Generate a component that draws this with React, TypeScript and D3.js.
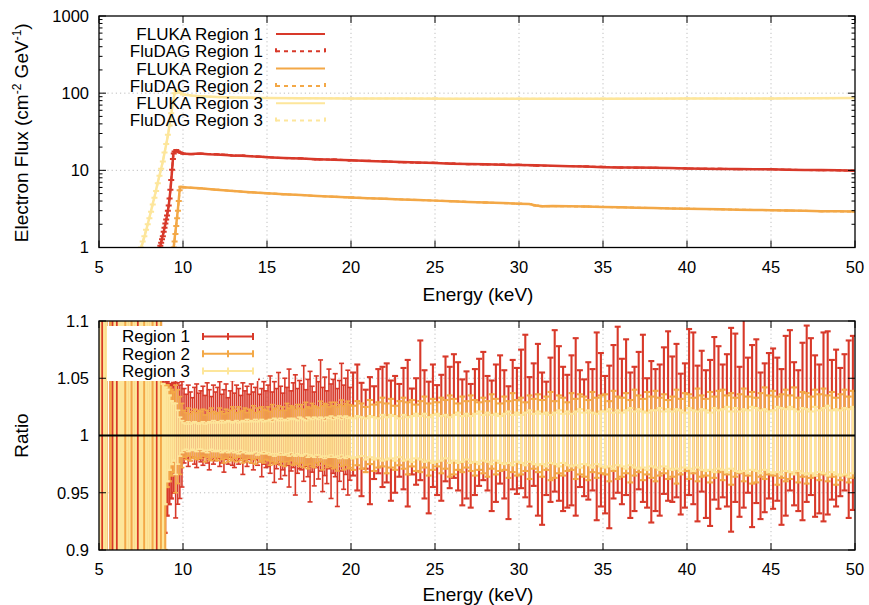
import React from "react";
import * as d3 from "d3";

// ---------- axis ticks ----------
const xTicks = [5, 10, 15, 20, 25, 30, 35, 40, 45, 50];
const fluxTicks = [1, 10, 100, 1000];
const ratioTicks = [0.9, 0.95, 1, 1.05, 1.1];
const ratioTickLabels = ["0.9", "0.95", "1", "1.05", "1.1"];

// ---------- top panel: FLUKA spectra ----------
const fluka1E = [8.55, 8.65, 8.75, 8.85, 8.95, 9.05, 9.15, 9.25, 9.35, 9.42, 9.5, 9.6, 9.7, 9.8, 9.9, 10, 10.5, 11, 11.5, 12, 12.5, 13, 13.5, 14, 14.5, 15, 16, 17, 18, 19, 20, 21, 22, 23, 24, 25, 26, 27, 28, 29, 30, 31, 32, 33, 34, 35, 36, 37, 38, 39, 40, 41, 42, 43, 44, 45, 46, 47, 48, 49, 50];
const fluka1 = [0.9, 1.05, 1.3, 1.6, 2.0, 2.6, 3.5, 5.5, 10, 16, 17.5, 18, 17.8, 17.2, 16.6, 16.4, 16.3, 16.5, 16.2, 16.0, 15.8, 15.6, 15.5, 15.2, 15.1, 14.8, 14.5, 14.2, 13.9, 13.7, 13.5, 13.2, 13.0, 12.8, 12.6, 12.4, 12.2, 12.1, 12.0, 11.8, 11.7, 11.6, 11.5, 11.3, 11.2, 11.0, 10.9, 10.9, 10.8, 10.7, 10.6, 10.5, 10.4, 10.4, 10.3, 10.3, 10.2, 10.1, 10.1, 10.0, 9.9];

const fluka2E = [9.42, 9.5, 9.6, 9.7, 9.78, 9.82, 9.9, 10, 11, 12, 13, 14, 15, 16, 17, 18, 19, 20, 21, 22, 23, 24, 25, 26, 27, 28, 29, 30, 30.6, 31, 31.4, 32, 33, 34, 35, 36, 37, 38, 39, 40, 41, 42, 43, 44, 45, 46, 47, 48, 49, 50];
const fluka2 = [0.9, 1.3, 2.0, 3.2, 5.0, 6.1, 6.1, 6.05, 5.85, 5.6, 5.4, 5.2, 5.05, 4.9, 4.78, 4.65, 4.55, 4.45, 4.35, 4.28, 4.2, 4.12, 4.05, 3.98, 3.9, 3.83, 3.77, 3.7, 3.66, 3.5, 3.42, 3.44, 3.42, 3.39, 3.36, 3.32, 3.28, 3.25, 3.21, 3.18, 3.15, 3.12, 3.09, 3.07, 3.04, 3.01, 2.99, 2.96, 2.94, 2.92];

const fluka3E = [7.45, 7.6, 7.75, 7.9, 8.05, 8.2, 8.35, 8.5, 8.65, 8.8, 8.95, 9.1, 9.25, 9.4, 9.5, 9.6, 9.75, 10, 10.5, 11, 12, 13, 14, 15, 17, 20, 23, 26, 30, 35, 40, 45, 50];
const fluka3 = [0.9, 1.15, 1.5, 2.0, 2.7, 3.7, 5.0, 7.0, 9.5, 13, 19, 28, 45, 75, 100, 108, 104, 96, 93, 91, 89, 88, 87, 86.5, 86, 85.5, 85, 84.5, 84.5, 84.5, 85, 85.5, 86.5];

// ---------- top panel: FluDAG spectra ----------
const dag1E = [8.6, 8.65, 8.7, 8.75, 8.8, 8.85, 8.9, 8.95, 9.0, 9.05, 9.1, 9.15, 9.2, 9.25, 9.3, 9.35, 9.4, 9.45, 9.5, 9.6, 9.7, 9.8, 9.9, 10, 10.5, 11, 11.5, 12, 12.5, 13, 13.5, 14, 14.5, 15, 16, 17, 18, 19, 20, 21, 22, 23, 24, 25, 26, 27, 28, 29, 30, 31, 32, 33, 34, 35, 36, 37, 38, 39, 40, 41, 42, 43, 44, 45, 46, 47, 48, 49, 50];
const dag1 = [0.95, 1.05, 1.15, 1.28, 1.4, 1.6, 1.8, 2.05, 2.3, 2.6, 3.0, 3.5, 4.3, 5.6, 7.5, 10.2, 14, 16.5, 17.6, 18.3, 17.6, 17.1, 16.8, 16.5, 16.2, 16.4, 16.3, 16.1, 15.9, 15.5, 15.6, 15.3, 15.0, 14.9, 14.4, 14.3, 13.8, 13.8, 13.4, 13.3, 13.1, 12.7, 12.5, 12.5, 12.3, 12.0, 11.9, 11.9, 11.8, 11.5, 11.4, 11.4, 11.2, 11.1, 10.9, 10.8, 10.8, 10.7, 10.6, 10.5, 10.5, 10.3, 10.4, 10.3, 10.2, 10.1, 10.0, 10.0, 9.9];

const dag2E = [9.45, 9.5, 9.55, 9.6, 9.65, 9.7, 9.75, 9.8, 9.9, 10, 11, 12, 13, 14, 15, 16, 17, 18, 19, 20, 22, 24, 26, 28, 30, 30.6, 31, 31.4, 32, 34, 36, 38, 40, 42, 44, 46, 48, 50];
const dag2 = [1.0, 1.2, 1.5, 1.9, 2.4, 3.0, 4.0, 5.5, 6.15, 6.05, 5.85, 5.6, 5.4, 5.2, 5.05, 4.9, 4.78, 4.65, 4.55, 4.45, 4.28, 4.12, 3.98, 3.83, 3.7, 3.66, 3.5, 3.42, 3.44, 3.39, 3.32, 3.25, 3.18, 3.12, 3.07, 3.01, 2.96, 2.92];

const dag3E = [7.5, 7.6, 7.7, 7.8, 7.9, 8.0, 8.1, 8.2, 8.3, 8.4, 8.5, 8.6, 8.7, 8.8, 8.9, 9.0, 9.1, 9.2, 9.3, 9.4, 9.5, 9.6, 9.7, 9.8, 10, 11, 12, 14, 17, 20, 25, 30, 35, 40, 45, 50];
const dag3 = [1.0, 1.2, 1.4, 1.7, 2.0, 2.4, 2.9, 3.6, 4.4, 5.4, 6.8, 8.5, 10.5, 13, 17, 22, 29, 38, 55, 78, 100, 109, 106, 101, 96, 91, 89, 87, 86, 85.5, 85, 84.5, 84.5, 85, 85.5, 86.5];

// ---------- bottom panel: ratio FluDAG/FLUKA ----------
// bins: 0.125 keV from 9.5 to 20 keV, then 0.25 keV from 20 to 50 keV
// upper / lower error-bar extents, in units of 0.001 around 1
const ratio1Hi = [48, 46, 44, 47,
  41, 36, 44, 38, 33, 42, 45, 37, 39, 43, 35, 46, 40, 34, 44, 38,
  42, 47, 36, 40, 45, 33, 39, 48, 37, 44, 41, 35, 46, 39, 43, 36,
  45, 38, 42, 49, 36, 41, 47, 39, 44, 52, 38, 47, 41, 55, 43, 37,
  50, 42, 58, 39, 46, 53, 41, 48, 45, 61, 40, 49, 56, 43, 38, 52,
  47, 66, 42, 51, 39, 58, 45, 49, 54, 41, 48, 63, 44, 50, 57, 42,
  55, 62, 46, 40, 51, 43, 58, 60, 63, 48, 52, 45, 59, 66, 41, 50, 83, 57, 47, 62,
  44, 53, 69, 60, 71, 64, 49, 56, 45, 58, 67, 73, 52, 48, 62, 70, 57, 43, 66, 59,
  75, 88, 51, 63, 80, 55, 47, 68, 92, 78, 60, 53, 70, 85, 57, 49, 64, 58, 90, 72,
  52, 61, 79, 95, 67, 84, 55, 60, 73, 88, 50, 65, 58, 62, 77, 91, 69, 80, 54, 63,
  93, 90, 61, 74, 57, 66, 86, 78, 62, 71, 94, 89, 60, 120, 68, 79, 84, 55, 63, 72,
  76, 68, 58, 87, 92, 64, 57, 81, 96, 85, 70, 62, 90, 91, 66, 75, 59, 71, 83, 87];
const ratio1Lo = [72, 60, 55, 45,
  24, 20, 27, 22, 19, 25, 28, 21, 23, 26, 19, 24, 30, 21, 25, 22,
  20, 27, 24, 32, 21, 25, 19, 26, 28, 22, 25, 20, 34, 23, 27, 21,
  24, 30, 21, 26, 23, 36, 25, 28, 27, 33, 24, 41, 29, 25, 38, 30,
  35, 26, 45, 31, 28, 52, 33, 29, 30, 40, 27, 36, 58, 32, 44, 28,
  38, 31, 49, 35, 42, 29, 55, 33, 36, 62, 40, 31, 47, 34, 52, 39,
  35, 48, 53, 29, 60, 38, 33, 45, 41, 57, 50, 36, 47, 62, 34, 43, 39, 55, 68, 45,
  52, 57, 40, 46, 37, 48, 61, 55, 63, 52, 44, 39, 48, 66, 58, 42, 55, 73, 47, 51,
  46, 54, 62, 44, 70, 78, 52, 58, 49, 57, 66, 63, 61, 70, 45, 53, 56, 48, 74, 62,
  68, 81, 55, 50, 60, 52, 72, 66, 47, 58, 63, 76, 66, 70, 51, 57, 58, 54, 69, 63,
  52, 60, 75, 49, 72, 79, 56, 64, 54, 62, 84, 58, 71, 63, 50, 80, 59, 73, 67, 55,
  64, 57, 78, 70, 48, 61, 66, 74, 58, 52, 71, 68, 75, 69, 56, 62, 53, 48, 72, 65];

const ratio2Hi = [44, 40, 34, 28,
  22, 20, 24, 19, 21, 23, 20, 22, 21, 23, 18, 22, 20, 24, 21, 19,
  20, 24, 21, 19, 23, 20, 22, 25, 23, 20, 25, 21, 22, 24, 20, 23,
  22, 26, 20, 24, 21, 25, 23, 22, 25, 21, 27, 23, 24, 26, 22, 25,
  22, 28, 24, 26, 25, 23, 27, 24, 27, 23, 29, 25, 24, 28, 26, 25,
  24, 30, 26, 28, 27, 25, 29, 26, 29, 25, 27, 31, 26, 28, 30, 27,
  26, 30, 28, 25, 31, 27, 29, 33, 28, 32, 26, 30, 33, 29, 31, 27, 30, 34, 28, 32,
  29, 33, 31, 35, 32, 28, 34, 30, 35, 31, 29, 33, 30, 36, 32, 28, 34, 30, 37, 31,
  33, 29, 35, 32, 36, 31, 34, 38, 30, 35, 33, 29, 37, 32, 36, 34, 31, 38, 33, 35,
  36, 30, 39, 34, 33, 37, 31, 40, 35, 32, 38, 34, 39, 33, 36, 31, 34, 40, 32, 37,
  36, 33, 41, 35, 32, 38, 34, 39, 40, 35, 37, 33, 36, 41, 34, 38, 33, 37, 42, 35,
  39, 34, 36, 40, 35, 42, 33, 38, 37, 34, 40, 36, 41, 35, 38, 33, 36, 40, 34, 39];
const ratio2Lo = [50, 42, 34, 28,
  19, 21, 18, 22, 20, 19, 21, 20, 20, 18, 23, 19, 21, 22, 19, 21,
  22, 19, 21, 24, 20, 23, 21, 22, 20, 23, 19, 22, 24, 21, 23, 20,
  24, 21, 25, 20, 23, 22, 24, 21, 22, 26, 23, 25, 24, 22, 26, 23,
  27, 23, 25, 22, 26, 24, 25, 27, 24, 28, 26, 29, 25, 27, 28, 24,
  26, 23, 30, 25, 28, 26, 27, 29, 28, 31, 24, 27, 30, 26, 29, 28,
  30, 26, 29, 32, 25, 31, 28, 27, 33, 28, 30, 26, 29, 34, 27, 31, 32, 28, 35, 30,
  27, 33, 29, 36, 34, 30, 32, 28, 31, 35, 30, 33, 36, 29, 34, 31, 30, 37, 32, 35,
  34, 31, 38, 29, 32, 36, 30, 39, 37, 33, 35, 31, 30, 38, 34, 36, 39, 32, 37, 33,
  34, 40, 31, 38, 36, 33, 41, 35, 32, 39, 34, 37, 40, 35, 33, 38, 36, 42, 34, 31,
  38, 33, 40, 36, 35, 41, 37, 32, 39, 34, 43, 36, 33, 40, 35, 42, 41, 36, 38, 34,
  35, 43, 37, 40, 38, 33, 41, 36, 42, 37, 35, 39, 34, 40, 36, 43, 39, 35, 41, 37];

const ratio3Hi = [28, 22, 16, 13,
  11, 10, 12, 10, 11, 12, 11, 10, 11, 12, 10, 11, 12, 11, 13, 11,
  12, 11, 13, 11, 12, 13, 12, 11, 12, 13, 11, 12, 13, 12, 14, 12,
  13, 12, 14, 12, 13, 14, 12, 13, 13, 14, 12, 15, 14, 13, 15, 13,
  14, 13, 15, 14, 15, 14, 13, 16, 15, 14, 13, 16, 15, 14, 16, 15,
  14, 16, 15, 13, 16, 15, 17, 14, 16, 15, 17, 14, 16, 17, 15, 16,
  15, 17, 16, 15, 17, 16, 15, 18, 16, 18, 17, 15, 18, 16, 17, 19, 17, 19, 16, 18,
  19, 17, 18, 16, 18, 20, 17, 19, 17, 19, 21, 18, 20, 18, 19, 17, 19, 21, 18, 20,
  18, 20, 22, 19, 21, 19, 20, 18, 20, 22, 19, 21, 19, 21, 23, 20, 22, 20, 19, 21,
  21, 23, 20, 22, 20, 22, 24, 21, 23, 21, 20, 22, 22, 24, 21, 23, 21, 23, 22, 20,
  24, 22, 21, 23, 22, 20, 24, 22, 23, 25, 21, 24, 21, 23, 22, 25, 24, 22, 23, 21,
  22, 25, 24, 23, 25, 23, 21, 24, 23, 21, 25, 22, 24, 26, 22, 23, 22, 24, 23, 25];
const ratio3Lo = [34, 25, 18, 15,
  13, 12, 14, 13, 12, 13, 14, 12, 12, 14, 13, 15, 13, 12, 14, 13,
  14, 13, 15, 14, 13, 15, 14, 13, 15, 14, 16, 13, 15, 14, 16, 15,
  16, 15, 14, 17, 15, 16, 14, 16, 15, 17, 16, 18, 16, 17, 15, 17,
  17, 16, 18, 15, 17, 18, 16, 17, 18, 17, 16, 19, 17, 18, 19, 17,
  17, 19, 18, 20, 18, 19, 17, 19, 19, 18, 20, 17, 19, 20, 18, 19,
  20, 19, 18, 21, 19, 21, 20, 22, 21, 20, 22, 19, 22, 21, 23, 20, 21, 23, 22, 24,
  23, 22, 20, 24, 22, 24, 23, 21, 24, 23, 25, 22, 23, 25, 22, 24, 25, 24, 26, 23,
  24, 26, 23, 25, 26, 25, 27, 24, 25, 27, 24, 26, 27, 26, 28, 25, 26, 28, 25, 27,
  28, 27, 29, 26, 27, 29, 26, 28, 29, 28, 30, 27, 28, 30, 27, 29, 30, 29, 31, 28,
  29, 31, 28, 30, 31, 30, 32, 29, 30, 32, 29, 31, 32, 31, 33, 30, 31, 33, 30, 32,
  33, 32, 34, 31, 32, 34, 31, 33, 34, 33, 35, 32, 33, 35, 32, 34, 35, 34, 36, 33];

// ---------- bottom panel: ratio below threshold, 0.125 keV bins from 5 keV ----------
// 999 = error bar off the scale, null = no point
const F = 999;
const low1Hi = [F, F, F, F, null, F, F, F, F, F, F, F, F, F, F, F, F, F, F, F, F, F, F, F, F, F, F, F, F, F, 48, 46, 47, 45, 44, 46];
const low1Lo = [F, F, F, F, null, F, F, F, F, F, F, F, F, F, F, F, F, F, F, F, F, F, F, F, F, F, F, F, F, F, 100, 85, 70, 60, 55, 50];
const low2Hi = [F, null, F, F, null, F, null, F, null, F, F, F, F, F, F, F, F, F, null, F, F, F, F, F, F, F, F, null, F, F, 45, 44, 44, 42, 40, 38];
const low2Lo = [F, null, F, F, null, F, null, F, null, F, F, F, F, F, F, F, F, F, null, F, F, F, F, F, F, F, F, null, F, F, 100, 100, 45, 40, 35, 32];
const low3Hi = [F, null, F, F, null, null, null, F, null, F, F, F, null, F, F, null, F, F, null, F, F, null, F, F, F, null, F, null, F, null, 45, 42, 40, 35, 30, 28];
const low3Lo = [F, null, F, F, null, null, null, F, null, F, F, F, null, F, F, null, F, F, null, F, F, null, F, F, F, null, F, null, F, null, 100, 60, 40, 30, 25, 22];

// ---------- legend labels ----------
const topLegend = ["FLUKA Region 1", "FluDAG Region 1", "FLUKA Region 2", "FluDAG Region 2", "FLUKA Region 3", "FluDAG Region 3"];
const bottomLegend = ["Region 1", "Region 2", "Region 3"];

const COLORS = ["#d8392a", "#f3a847", "#fde69b"];
const FONT = "'Liberation Sans', Arial, Helvetica, sans-serif";

const L = 99, R = 855;
const T1 = 16, B1 = 247.5;
const T2 = 321, B2 = 550;

export default function App() {
  const x = d3.scaleLinear().domain([5, 50]).range([L, R]);
  const yT = d3.scaleLog().domain([1, 1000]).range([B1, T1]);
  const yB = d3.scaleLinear().domain([0.9, 1.1]).range([B2, T2]);

  const mainE = d3
    .range(84)
    .map((i) => 9.5625 + 0.125 * i)
    .concat(d3.range(120).map((i) => 20.125 + 0.25 * i));
  const lowE = d3.range(low1Hi.length).map((i) => 5.0625 + 0.125 * i);

  const line = d3
    .line<[number, number]>()
    .x((d) => x(d[0]))
    .y((d) => yT(d[1]));

  const zip = (e: number[], v: number[]) => e.map((ei, i) => [ei, v[i]] as [number, number]);

  const flukaSets = [
    [fluka1E, fluka1],
    [fluka2E, fluka2],
    [fluka3E, fluka3],
  ];
  const dagSets = [
    [dag1E, dag1],
    [dag2E, dag2],
    [dag3E, dag3],
  ];
  const ratioSets = [
    [ratio1Hi, ratio1Lo, low1Hi, low1Lo],
    [ratio2Hi, ratio2Lo, low2Hi, low2Lo],
    [ratio3Hi, ratio3Lo, low3Hi, low3Lo],
  ];

  const minorLog: number[] = [];
  [1, 10, 100].forEach((b) => [2, 3, 4, 5, 6, 7, 8, 9].forEach((m) => minorLog.push(b * m)));

  const errBars = (E: number[], hi: (number | null)[], lo: (number | null)[], color: string, key: string, low: boolean) =>
    E.map((e, i) => {
      const h = hi[i];
      const l = lo[i];
      if (h == null || l == null) return null;
      const xx = x(e);
      const y1 = yB(1 + h / 1000);
      const y2 = yB(1 - l / 1000);
      const fine = low || e < 20;
      const sw = low ? 2.3 : fine ? 1.6 : 2.1;
      const cap = fine ? 2.5 : 3;
      return (
        <g key={key + i} stroke={color} strokeWidth={sw}>
          <line x1={xx} x2={xx} y1={y1} y2={y2} />
          <line x1={xx - cap} x2={xx + cap} y1={y1} y2={y1} />
          <line x1={xx - cap} x2={xx + cap} y1={y2} y2={y2} />
        </g>
      );
    });

  const frameTicks = (top: number, bottom: number, yScale: (v: number) => number, yMajor: number[], yMinor: number[], keyp: string) => (
    <g stroke="#000" strokeWidth={1}>
      {xTicks.map((t) => (
        <g key={keyp + "x" + t}>
          <line x1={x(t)} x2={x(t)} y1={bottom} y2={bottom - 7} />
          <line x1={x(t)} x2={x(t)} y1={top} y2={top + 7} />
        </g>
      ))}
      {yMajor.map((t) => (
        <g key={keyp + "y" + t}>
          <line x1={L} x2={L + 7} y1={yScale(t)} y2={yScale(t)} />
          <line x1={R} x2={R - 7} y1={yScale(t)} y2={yScale(t)} />
        </g>
      ))}
      {yMinor.map((t) => (
        <g key={keyp + "m" + t}>
          <line x1={L} x2={L + 3.5} y1={yScale(t)} y2={yScale(t)} />
          <line x1={R} x2={R - 3.5} y1={yScale(t)} y2={yScale(t)} />
        </g>
      ))}
      <rect x={L} y={top} width={R - L} height={bottom - top} fill="none" strokeWidth={1.3} />
    </g>
  );

  const grid = (top: number, bottom: number, yVals: number[], yScale: (v: number) => number, keyp: string) => (
    <g stroke="#b8b8b8" strokeWidth={0.9} strokeDasharray="1.2,3">
      {xTicks.slice(1, -1).map((t) => (
        <line key={keyp + "gx" + t} x1={x(t)} x2={x(t)} y1={top} y2={bottom} />
      ))}
      {yVals.map((t) => (
        <line key={keyp + "gy" + t} x1={L} x2={R} y1={yScale(t)} y2={yScale(t)} />
      ))}
    </g>
  );

  const topRows = [34, 51.3, 68.6, 85.9, 103.2, 120.5];
  const botRows = [336.5, 353.8, 371.1];

  return (
    <svg width={869} height={605} style={{ display: "block", position: "absolute", left: 0, top: 0, background: "#fff" }} fontFamily={FONT}>
      <defs>
        <clipPath id="clipTop">
          <rect x={L} y={T1} width={R - L} height={B1 - T1} />
        </clipPath>
        <clipPath id="clipBot">
          <rect x={L} y={T2} width={R - L} height={B2 - T2} />
        </clipPath>
      </defs>
      <rect x={0} y={0} width={869} height={605} fill="#fff" />

      {/* ---------------- top panel ---------------- */}
      {grid(T1, B1, [10, 100], yT, "t")}
      <g clipPath="url(#clipTop)">
        {flukaSets.map((s, k) => (
          <path key={"fl" + k} d={line(zip(s[0], s[1])) || ""} fill="none" stroke={COLORS[k]} strokeWidth={2.5} strokeLinejoin="round" />
        ))}
        {dagSets.map((s, k) => (
          <g key={"dg" + k} stroke={COLORS[k]} strokeWidth={2}>
            <path d={line(zip(s[0], s[1])) || ""} fill="none" strokeDasharray="4,3" />
            {s[0].map((e, i) => (
              <line key={i} x1={x(e) - 3} x2={x(e) + 3} y1={yT(s[1][i])} y2={yT(s[1][i])} />
            ))}
          </g>
        ))}
      </g>
      {frameTicks(T1, B1, yT, fluxTicks, minorLog, "t")}
      <g fontSize={16.5} fill="#000">
        {fluxTicks.map((t) => (
          <text key={"yl" + t} x={89} y={yT(t)} dy="0.35em" textAnchor="end">
            {t}
          </text>
        ))}
        {xTicks.map((t) => (
          <text key={"xl" + t} x={x(t)} y={267} dy="0.35em" textAnchor="middle">
            {t}
          </text>
        ))}
      </g>
      <g fontSize={19} fill="#000">
        <text x={(L + R) / 2 + 1} y={294} dy="0.35em" textAnchor="middle">
          Energy (keV)
        </text>
        <text transform={`translate(21,${(T1 + B1) / 2 + 1}) rotate(-90)`} textAnchor="middle" dy="0.35em">
          Electron Flux (cm
          <tspan dy="-7" fontSize={12}>-2</tspan>
          <tspan dy="7"> GeV</tspan>
          <tspan dy="-7" fontSize={12}>-1</tspan>
          <tspan dy="7">)</tspan>
        </text>
      </g>
      {/* top legend */}
      <g fontSize={17}>
        {topLegend.map((lab, i) => {
          const c = COLORS[Math.floor(i / 2)];
          const y = topRows[i];
          const dashed = i % 2 === 1;
          return (
            <g key={"tl" + i}>
              <text x={263} y={y} dy="0.35em" textAnchor="end" fill="#000">
                {lab}
              </text>
              {dashed ? (
                <g stroke={c} strokeWidth={2}>
                  <line x1={276} x2={325} y1={y} y2={y} strokeDasharray="4,4" />
                  <line x1={276} x2={276} y1={y - 3} y2={y + 1} />
                  <line x1={325} x2={325} y1={y - 3} y2={y + 1} />
                </g>
              ) : (
                <line x1={276} x2={325} y1={y} y2={y} stroke={c} strokeWidth={2} />
              )}
            </g>
          );
        })}
      </g>

      {/* ---------------- bottom panel ---------------- */}
      {grid(T2, B2, [0.95, 1.05], yB, "b")}
      <g clipPath="url(#clipBot)">
        {ratioSets.map((s, k) => (
          <g key={"rs" + k}>
            {errBars(lowE, s[2] as (number | null)[], s[3] as (number | null)[], COLORS[k], "lo" + k, true)}
            {errBars(mainE, s[0] as number[], s[1] as number[], COLORS[k], "mn" + k, false)}
          </g>
        ))}
        <line x1={L} x2={R} y1={yB(1)} y2={yB(1)} stroke="#000" strokeWidth={2.2} />
      </g>
      {/* legend box */}
      <rect x={107} y={326} width={151} height={55} fill="#fff" />
      <g fontSize={17}>
        {bottomLegend.map((lab, i) => {
          const y = botRows[i];
          const c = COLORS[i];
          return (
            <g key={"bl" + i}>
              <text x={190} y={y} dy="0.35em" textAnchor="end" fill="#000">
                {lab}
              </text>
              <g stroke={c} strokeWidth={2}>
                <line x1={203} x2={253} y1={y} y2={y} />
                <line x1={203} x2={203} y1={y - 3.5} y2={y + 3.5} />
                <line x1={228} x2={228} y1={y - 3.5} y2={y + 3.5} />
                <line x1={253} x2={253} y1={y - 3.5} y2={y + 3.5} />
              </g>
            </g>
          );
        })}
      </g>
      {frameTicks(T2, B2, yB, ratioTicks, [], "b")}
      <g fontSize={16.5} fill="#000">
        {ratioTicks.map((t, i) => (
          <text key={"rl" + t} x={89} y={yB(t)} dy="0.35em" textAnchor="end">
            {ratioTickLabels[i]}
          </text>
        ))}
        {xTicks.map((t) => (
          <text key={"bxl" + t} x={x(t)} y={569} dy="0.35em" textAnchor="middle">
            {t}
          </text>
        ))}
      </g>
      <g fontSize={19} fill="#000">
        <text x={(L + R) / 2 + 1} y={594} dy="0.35em" textAnchor="middle">
          Energy (keV)
        </text>
        <text transform={`translate(21,${yB(1)}) rotate(-90)`} textAnchor="middle" dy="0.35em">
          Ratio
        </text>
      </g>
    </svg>
  );
}
